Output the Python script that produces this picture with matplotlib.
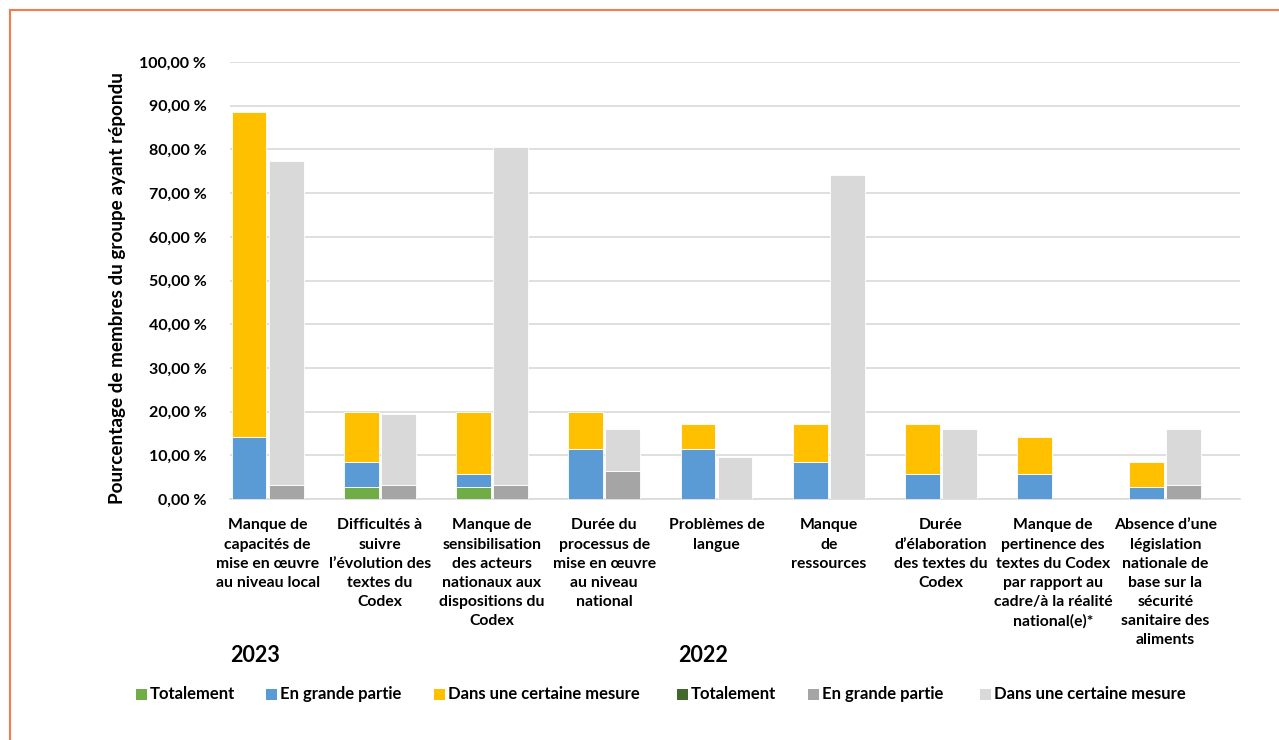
import matplotlib
matplotlib.use("Agg")
import matplotlib.pyplot as plt
from matplotlib.patches import Rectangle
import numpy as np

plt.rcParams['font.family'] = ['Lato', 'DejaVu Sans']

categories = [
    "Manque de\ncapacités de\nmise en œuvre\nau niveau local",
    "Difficultés à\nsuivre\nl’évolution des\ntextes du\nCodex",
    "Manque de\nsensibilisation\ndes acteurs\nnationaux aux\ndispositions du\nCodex",
    "Durée du\nprocessus de\nmise en œuvre\nau niveau\nnational",
    "Problèmes de\nlangue",
    "Manque\nde\nressources",
    "Durée\nd’élaboration\ndes textes du\nCodex",
    "Manque de\npertinence des\ntextes du Codex\npar rapport au\ncadre/à la réalité\nnational(e)*",
    "Absence d’une\nlégislation\nnationale de\nbase sur la\nsécurité\nsanitaire des\naliments",
]

# 2023 series
tot_2023 = [0.00, 2.86, 2.86, 0.00, 0.00, 0.00, 0.00, 0.00, 0.00]
grande_2023 = [14.29, 5.71, 2.86, 11.43, 11.43, 8.57, 5.71, 5.71, 2.86]
mesure_2023 = [74.29, 11.43, 14.29, 8.57, 5.71, 8.57, 11.43, 8.57, 5.71]
# 2022 series
tot_2022 = [0.00, 0.00, 0.00, 0.00, 0.00, 0.00, 0.00, 0.00, 0.00]
grande_2022 = [3.23, 3.23, 3.23, 6.45, 0.00, 0.00, 0.00, 0.00, 3.23]
mesure_2022 = [74.19, 16.13, 77.42, 9.68, 9.68, 74.19, 16.13, 0.00, 12.90]

yticks = [0, 10, 20, 30, 40, 50, 60, 70, 80, 90, 100]
ytick_labels = ["0,00 %", "10,00 %", "20,00 %", "30,00 %", "40,00 %", "50,00 %",
                "60,00 %", "70,00 %", "80,00 %", "90,00 %", "100,00 %"]
legend_labels = ["Totalement", "En grande partie", "Dans une certaine mesure",
                 "Totalement", "En grande partie", "Dans une certaine mesure"]
year_labels = ["2023", "2022"]

c_green, c_blue, c_yellow = "#70AD47", "#5B9BD5", "#FFC000"
c_dgreen, c_gray, c_lgray = "#43682B", "#A5A5A5", "#D9D9D9"

W, H = 1279, 740
fig = plt.figure(figsize=(W / 100, H / 100), dpi=100)

# orange frame
fig.patches.append(Rectangle((10 / W, -0.1), 1.2, 1 - 10 / H + 0.1, transform=fig.transFigure,
                             fill=False, edgecolor="#F47B4F", linewidth=1.5))

ax = fig.add_axes([230 / W, 1 - 499 / H, 1010 / W, 437 / H])
x = np.arange(len(categories))
bw = 0.31
off23 = -0.33

t23 = np.array(tot_2023); g23 = np.array(grande_2023); m23 = np.array(mesure_2023)
t22 = np.array(tot_2022); g22 = np.array(grande_2022); m22 = np.array(mesure_2022)

ekw = dict(edgecolor="white", linewidth=0.6, zorder=3)
ax.bar(x + off23, t23, bw, color=c_green, **ekw)
ax.bar(x + off23, g23, bw, bottom=t23, color=c_blue, **ekw)
ax.bar(x + off23, m23, bw, bottom=t23 + g23, color=c_yellow, **ekw)
ax.bar(x, t22, bw, color=c_dgreen, **ekw)
ax.bar(x, g22, bw, bottom=t22, color=c_gray, **ekw)
ax.bar(x, m22, bw, bottom=t22 + g22, color=c_lgray, **ekw)

ax.set_xlim(-0.5, len(categories) - 0.5)
ax.set_ylim(0, 100)
ax.set_yticks(yticks)
ax.set_yticklabels(ytick_labels, fontsize=11.5, fontweight="bold")
ax.tick_params(axis="y", length=0, pad=17)
ax.set_xticks(x + off23 / 2)
ax.set_xticklabels(categories, fontsize=11.3, fontweight="bold", linespacing=1.47,
                   va="top", ha="center")
ax.tick_params(axis="x", length=0, pad=14)
ax.grid(axis="y", color="#D9D9D9", linewidth=1.2, zorder=0)
ax.set_axisbelow(True)
for s in ["top", "right", "left"]:
    ax.spines[s].set_visible(False)
ax.spines["bottom"].set_color("#D9D9D9")
ax.spines["bottom"].set_linewidth(1.2)

fig.text(118 / W, 1 - 288 / H, "Pourcentage de membres du groupe ayant répondu",
         rotation=90, ha="center", va="center", fontsize=13.6, fontweight="bold")

fig.text(255 / W, 1 - 655 / H, year_labels[0], ha="center", va="center",
         fontsize=15.5, fontweight="bold")
fig.text(703 / W, 1 - 655 / H, year_labels[1], ha="center", va="center",
         fontsize=15.5, fontweight="bold")

leg_x = [136, 266, 434, 677, 808, 980]
leg_c = [c_green, c_blue, c_yellow, c_dgreen, c_gray, c_lgray]
for lx, lc, lt in zip(leg_x, leg_c, legend_labels):
    fig.patches.append(Rectangle((lx / W, 1 - 700 / H), 11 / W, 11 / H,
                                 transform=fig.transFigure, facecolor=lc, edgecolor="none"))
    fig.text((lx + 14) / W, 1 - 694 / H, lt, ha="left", va="center",
             fontsize=12, fontweight="bold")

fig.savefig("out.png", dpi=100)
